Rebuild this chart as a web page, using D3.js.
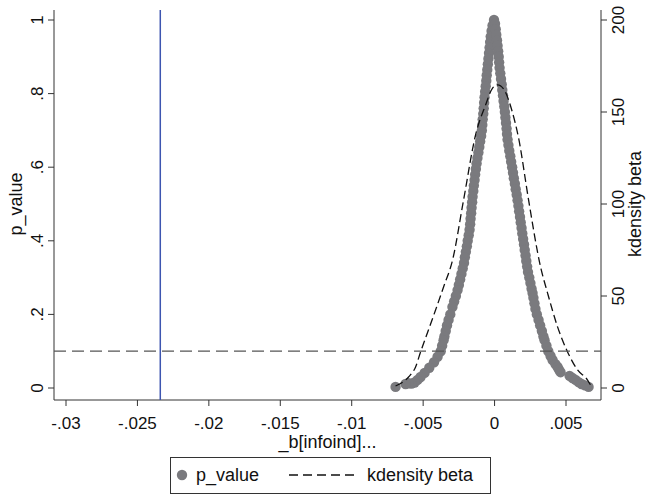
<!DOCTYPE html>
<meta charset="utf-8">
<script src="https://d3js.org/d3.v7.min.js"></script>
<style>
  body { margin: 0; background: #fff; }
  text { font-family: "Liberation Sans", Arial, sans-serif; fill: #111; }
</style>
<div id="chart"></div>
<script>
// axis ticks
var xTicks = [-0.03, -0.025, -0.02, -0.015, -0.01, -0.005, 0, 0.005];
var xTickLabels = ["-.03", "-.025", "-.02", "-.015", "-.01", "-.005", "0", ".005"];
var pTicks = [0, 0.2, 0.4, 0.6, 0.8, 1];
var pTickLabels = ["0", ".2", ".4", ".6", ".8", "1"];
var densTicks = [0, 50, 100, 150, 200];

// p_value against beta (left branch, then right branch)
var beta = [
  -0.00004, -0.00014, -0.00021, -0.00027, -0.00031, -0.00035, -0.00039, -0.00043, -0.00047, -0.00051,
  -0.00055, -0.00058, -0.00062, -0.00066, -0.00070, -0.00073, -0.00076, -0.00079, -0.00083, -0.00086,
  -0.00089, -0.00094, -0.00101, -0.00107, -0.00113, -0.00120, -0.00126, -0.00131, -0.00136, -0.00140,
  -0.00145, -0.00149, -0.00154, -0.00157, -0.00161, -0.00164, -0.00168, -0.00171, -0.00175, -0.00181,
  -0.00188, -0.00194, -0.00201, -0.00208, -0.00214, -0.00223, -0.00232, -0.00241, -0.00250, -0.00259,
  -0.00271, -0.00283, -0.00295, -0.00310, -0.00322, -0.00333, -0.00342, -0.00351, -0.00357, -0.00367,
  -0.00377, -0.00399, -0.00424, -0.00457, -0.00490, -0.00518, -0.00539, -0.00560, -0.00581, -0.00602,
  -0.00623, -0.00693,
  0.00003, 0.00008, 0.00012, 0.00017, 0.00021, 0.00025, 0.00029, 0.00032, 0.00035, 0.00040,
  0.00045, 0.00050, 0.00054, 0.00059, 0.00063, 0.00068, 0.00072, 0.00076, 0.00080, 0.00084,
  0.00087, 0.00091, 0.00097, 0.00103, 0.00110, 0.00116, 0.00123, 0.00129, 0.00135, 0.00142,
  0.00148, 0.00155, 0.00161, 0.00167, 0.00172, 0.00178, 0.00183, 0.00189, 0.00194, 0.00200,
  0.00206, 0.00211, 0.00217, 0.00222, 0.00228, 0.00234, 0.00243, 0.00251, 0.00259, 0.00266,
  0.00272, 0.00279, 0.00286, 0.00296, 0.00308, 0.00319, 0.00331, 0.00342, 0.00350, 0.00363,
  0.00376, 0.00392, 0.00406, 0.00426, 0.00441, 0.00451, 0.00462, 0.00525, 0.00546, 0.00567,
  0.00588, 0.00609, 0.00633, 0.00658
];
var pValue = [
  1.000, 0.985, 0.970, 0.955, 0.940, 0.925, 0.910, 0.895, 0.880, 0.865,
  0.850, 0.835, 0.820, 0.805, 0.790, 0.775, 0.760, 0.745, 0.730, 0.715,
  0.700, 0.685, 0.670, 0.655, 0.640, 0.625, 0.610, 0.595, 0.580, 0.565,
  0.550, 0.535, 0.520, 0.505, 0.490, 0.475, 0.460, 0.445, 0.430, 0.415,
  0.400, 0.385, 0.370, 0.355, 0.340, 0.325, 0.310, 0.295, 0.280, 0.266,
  0.250, 0.235, 0.220, 0.200, 0.185, 0.170, 0.155, 0.140, 0.130, 0.115,
  0.100, 0.085, 0.070, 0.055, 0.041, 0.030, 0.022, 0.015, 0.012, 0.013,
  0.011, 0.003,
  0.990, 0.975, 0.960, 0.945, 0.930, 0.915, 0.900, 0.885, 0.870, 0.855,
  0.840, 0.825, 0.810, 0.795, 0.780, 0.765, 0.750, 0.735, 0.720, 0.705,
  0.690, 0.675, 0.660, 0.645, 0.630, 0.615, 0.600, 0.585, 0.570, 0.555,
  0.540, 0.525, 0.510, 0.495, 0.480, 0.465, 0.450, 0.435, 0.420, 0.405,
  0.390, 0.375, 0.360, 0.345, 0.330, 0.315, 0.300, 0.285, 0.270, 0.258,
  0.245, 0.230, 0.215, 0.200, 0.185, 0.170, 0.155, 0.140, 0.130, 0.115,
  0.100, 0.087, 0.076, 0.065, 0.057, 0.050, 0.043, 0.033, 0.027, 0.022,
  0.016, 0.011, 0.007, 0.003
];

// kernel density of beta
var kdBeta = [-0.00693, -0.00602, -0.00553, -0.00518, -0.00483, -0.00413, -0.00357, -0.00294,
  -0.00217, -0.00133, -0.00063, -0.00014, 0.00021, 0.00063, 0.00126, 0.00168,
  0.00238, 0.00322, 0.00371, 0.00441, 0.00511, 0.00581, 0.00651, 0.00672];
var kdDens = [1.1, 6.0, 11.4, 19.6, 27.2, 42.4, 54.9, 69.6,
  102.2, 137.5, 153.8, 163.0, 164.7, 162.5, 149.5, 135.9,
  102.2, 65.8, 51.6, 33.2, 19.6, 9.8, 4.3, 1.6];

// reference lines
var refBeta = -0.0234;
var refP = 0.1;

var W = 648, H = 495;
var plot = {left: 54, right: 601, top: 10, bottom: 400};

var svg = d3.select("#chart").append("svg")
  .attr("width", W).attr("height", H);

var x = d3.scaleLinear().domain([-0.03, 0.005]).range([66, 566]);
var y = d3.scaleLinear().domain([0, 1]).range([388, 20]);
var y2 = d3.scaleLinear().domain([0, 200]).range([388, 20]);

// axis lines
var axisCol = "#333";
svg.append("line").attr("x1", plot.left).attr("x2", plot.left)
  .attr("y1", plot.top).attr("y2", plot.bottom).attr("stroke", axisCol);
svg.append("line").attr("x1", plot.right).attr("x2", plot.right)
  .attr("y1", plot.top).attr("y2", plot.bottom).attr("stroke", axisCol);
svg.append("line").attr("x1", plot.left).attr("x2", plot.right)
  .attr("y1", plot.bottom).attr("y2", plot.bottom).attr("stroke", axisCol);

var fs = 17;    // tick labels
var fsT = 18;   // axis titles and legend

// x ticks
xTicks.forEach(function(t, i) {
  svg.append("line").attr("x1", x(t)).attr("x2", x(t))
    .attr("y1", plot.bottom).attr("y2", plot.bottom + 6).attr("stroke", axisCol);
  svg.append("text").attr("x", x(t)).attr("y", 429)
    .attr("text-anchor", "middle").attr("font-size", fs).text(xTickLabels[i]);
});
svg.append("text").attr("x", (plot.left + plot.right) / 2).attr("y", 448)
  .attr("text-anchor", "middle").attr("font-size", fsT).text("_b[infoind]...");

// left y ticks
pTicks.forEach(function(t, i) {
  svg.append("line").attr("x1", plot.left - 6).attr("x2", plot.left)
    .attr("y1", y(t)).attr("y2", y(t)).attr("stroke", axisCol);
  svg.append("text").attr("transform", "translate(43," + y(t) + ") rotate(-90)")
    .attr("text-anchor", "middle").attr("font-size", fs).text(pTickLabels[i]);
});
svg.append("text").attr("transform", "translate(22," + y(0.5) + ") rotate(-90)")
  .attr("text-anchor", "middle").attr("font-size", fsT).text("p_value");

// right y ticks
densTicks.forEach(function(t) {
  svg.append("line").attr("x1", plot.right).attr("x2", plot.right + 6)
    .attr("y1", y2(t)).attr("y2", y2(t)).attr("stroke", axisCol);
  svg.append("text").attr("transform", "translate(624," + y2(t) + ") rotate(-90)")
    .attr("text-anchor", "middle").attr("font-size", fs).text(t);
});
svg.append("text").attr("transform", "translate(641," + y2(100) + ") rotate(-90)")
  .attr("text-anchor", "middle").attr("font-size", fsT).text("kdensity beta");

// scatter
var ptCol = "#7a7a7e";
svg.append("g").selectAll("circle")
  .data(d3.range(beta.length))
  .enter().append("circle")
  .attr("cx", function(i) { return x(beta[i]); })
  .attr("cy", function(i) { return y(pValue[i]); })
  .attr("r", 5.2)
  .attr("fill", ptCol);

// kdensity line
var kd = kdBeta.map(function(b, i) { return [b, kdDens[i]]; });
svg.append("path").datum(kd)
  .attr("fill", "none").attr("stroke", "#111").attr("stroke-width", 1.3)
  .attr("stroke-dasharray", "8,4")
  .attr("d", d3.line().curve(d3.curveMonotoneX)
    .x(function(d) { return x(d[0]); })
    .y(function(d) { return y2(d[1]); }));

// reference lines
svg.append("line").attr("x1", x(refBeta)).attr("x2", x(refBeta))
  .attr("y1", plot.top).attr("y2", plot.bottom)
  .attr("stroke", "#3d55b0").attr("stroke-width", 1.5);
svg.append("line").attr("x1", plot.left).attr("x2", plot.right)
  .attr("y1", y(refP)).attr("y2", y(refP))
  .attr("stroke", "#555").attr("stroke-width", 1.3).attr("stroke-dasharray", "12,6");

// legend
var lg = svg.append("g");
lg.append("rect").attr("x", 170.5).attr("y", 457.5).attr("width", 320).attr("height", 36)
  .attr("fill", "#fff").attr("stroke", "#333");
lg.append("circle").attr("cx", 182).attr("cy", 475).attr("r", 5.2).attr("fill", ptCol);
lg.append("text").attr("x", 196).attr("y", 481).attr("font-size", fsT).text("p_value");
lg.append("line").attr("x1", 289).attr("x2", 357).attr("y1", 475).attr("y2", 475)
  .attr("stroke", "#111").attr("stroke-width", 1.3).attr("stroke-dasharray", "9,5");
lg.append("text").attr("x", 367).attr("y", 481).attr("font-size", fsT).text("kdensity beta");
</script>
